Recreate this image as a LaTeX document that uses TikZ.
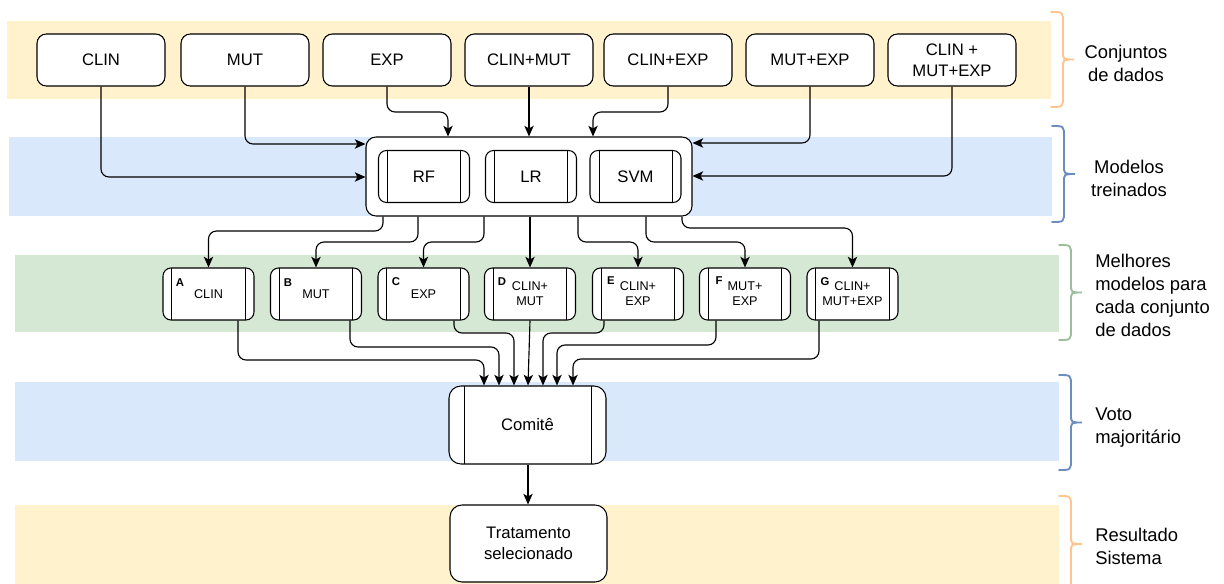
\documentclass[tikz,border=0pt]{standalone}
\usepackage{fontspec}
\setmainfont{Liberation Sans}
\usetikzlibrary{arrows.meta}

\definecolor{bandyellow}{HTML}{FFF2CC}
\definecolor{bandblue}{HTML}{DAE8FC}
\definecolor{bandgreen}{HTML}{D5E8D4}
\definecolor{braceorange}{HTML}{FFC48F}
\definecolor{braceblue}{HTML}{6C8EBF}
\definecolor{bracegreen}{HTML}{9DBE9D}

% curly bracket: colour, left x, top y, bottom y
\newcommand\curlybr[4]{%
  \pgfmathsetmacro\cbm{(#3+#4)/2}%
  \draw[bracestroke, #1] (#2,#3) .. controls (#2+12,#3) .. (#2+12,#3+11)
    -- (#2+12,\cbm-8) .. controls (#2+12,\cbm) .. (#2+23,\cbm)
    .. controls (#2+12,\cbm) .. (#2+12,\cbm+8)
    -- (#2+12,#4-11) .. controls (#2+12,#4) .. (#2,#4);}

\begin{document}
\begin{tikzpicture}[x=0.75pt,y=-0.75pt,
  bracestroke/.style={line width=1.4pt, line cap=round},
  databox/.style={draw, fill=white, line width=0.8pt, rounded corners=7pt,
    minimum width=96pt, minimum height=39pt, inner sep=0pt, align=center,
    font=\fontsize{12.5}{15.5}\selectfont},
  procbox/.style={draw, fill=white, line width=0.8pt, inner sep=0pt,
    path picture={\draw[line width=0.6pt]
      ([xshift=#1]path picture bounding box.north west) --
      ([xshift=#1]path picture bounding box.south west)
      ([xshift=-#1]path picture bounding box.north east) --
      ([xshift=-#1]path picture bounding box.south east);}},
  modelbox/.style={draw, fill=white, line width=0.8pt, rounded corners=7.5pt,
    minimum width=244.5pt, minimum height=59.25pt},
  algbox/.style={procbox=6.75pt, rounded corners=6pt, minimum width=68.25pt,
    minimum height=39pt, font=\fontsize{12.5}{15.5}\selectfont},
  bestbox/.style={procbox=6.5pt, rounded corners=6pt, minimum width=68.25pt,
    minimum height=39pt, align=center, font=\fontsize{9.5}{11.25}\selectfont},
  tagtext/.style={inner sep=0pt, font=\fontsize{8.5}{10}\selectfont\bfseries},
  votebox/.style={procbox=11.25pt, rounded corners=9pt, minimum width=117.75pt,
    minimum height=58.5pt, font=\fontsize{12.5}{15.5}\selectfont},
  resultbox/.style={draw, fill=white, line width=0.8pt, rounded corners=9pt,
    minimum width=117.75pt, minimum height=57.75pt, align=center,
    font=\fontsize{12.5}{15.5}\selectfont},
  sidelabel/.style={inner sep=0pt, font=\fontsize{13.8}{17.25}\selectfont},
  conn/.style={line width=0.85pt, rounded corners=6pt,
    -{Stealth[length=8pt,width=7pt,inset=2pt]}}
]
\useasboundingbox (0,0) rectangle (1224,584);

% background bands
\fill[bandyellow] (7,21) rectangle (1051,99);
\fill[bandblue] (9,137) rectangle (1052,216);
\fill[bandgreen] (15,255) rectangle (1059,332);
\fill[bandblue] (15,382) rectangle (1059,461);
\fill[bandyellow] (15,505) rectangle (1059,584);

% brackets
\curlybr{braceorange}{1051}{12}{107}
\curlybr{braceblue}{1052}{126}{222}
\curlybr{bracegreen}{1059}{245}{340}
\curlybr{braceblue}{1059}{375}{470}
\curlybr{braceorange}{1059}{496}{592}

% side labels
\node[sidelabel, align=center] (lab1) at (1126,63.5) {Conjuntos\\de dados};
\node[sidelabel, align=center] (lab2) at (1129,178) {Modelos\\treinados};
\node[sidelabel, align=left, anchor=west] (lab3) at (1095,295.5) {Melhores\\modelos para\\cada conjunto\\de dados};
\node[sidelabel, align=left, anchor=west] (lab4) at (1095,428) {Voto\\majoritário};
\node[sidelabel, align=left, anchor=west] (lab5) at (1095,546) {Resultado\\Sistema};

% data sets
\node[databox] (clin) at (101,60) {CLIN};
\node[databox] (mut) at (245,60) {MUT};
\node[databox] (exp) at (387,60) {EXP};
\node[databox] (cm) at (529,60) {CLIN+MUT};
\node[databox] (ce) at (668,60) {CLIN+EXP};
\node[databox] (me) at (810,60) {MUT+EXP};
\node[databox] (cme) at (952,60) {CLIN +\\MUT+EXP};

% trained models
\node[modelbox] (mdl) at (529,176.5) {};
\node[algbox] (rf) at (424,176.5) {RF};
\node[algbox] (lr) at (531,176.5) {LR};
\node[algbox] (svm) at (635.5,176.5) {SVM};

% best model per data set
\node[bestbox] (bA) at (208.5,294) {CLIN};
\node[bestbox] (bB) at (316,294) {MUT};
\node[bestbox] (bC) at (423.5,294) {EXP};
\node[bestbox] (bD) at (530,294) {CLIN+\\MUT};
\node[bestbox] (bE) at (638,294) {CLIN+\\EXP};
\node[bestbox] (bF) at (745,294) {MUT+\\EXP};
\node[bestbox] (bG) at (852.5,294) {CLIN+\\MUT+EXP};
\node[tagtext] (tA) at (180,282.5) {A};
\node[tagtext] (tB) at (288,282.5) {B};
\node[tagtext] (tC) at (396,282) {C};
\node[tagtext] (tD) at (502,281.5) {D};
\node[tagtext] (tE) at (611,281) {E};
\node[tagtext] (tF) at (719,281) {F};
\node[tagtext] (tG) at (825,281.5) {G};

% vote and result
\node[votebox] (cmt) at (527.5,425) {Comitê};
\node[resultbox] (trat) at (528.5,543.5) {Tratamento\\selecionado};

% data sets -> models
\draw[conn] (clin.south) |- (mdl.west |- 0,177);
\draw[conn] (mut.south) |- (mdl.west |- 0,144);
\draw[conn] (exp.south) |- (448,112) -- (mdl.north -| 448,0);
\draw[conn] (cm.south) -- (mdl.north);
\draw[conn] (ce.south) |- (593,112) -- (mdl.north -| 593,0);
\draw[conn] (me.south) |- (mdl.east |- 0,143);
\draw[conn] (cme.south) |- (mdl.east |- 0,176);

% models -> best models
\draw[conn] (mdl.south -| 383,0) |- (bA.north |- 0,231) -- (bA.north);
\draw[conn] (mdl.south -| 418,0) |- (bB.north |- 0,242) -- (bB.north);
\draw[conn] (mdl.south -| 484,0) |- (bC.north |- 0,242) -- (bC.north);
\draw[conn] (mdl.south -| 530,0) -- (bD.north);
\draw[conn] (mdl.south -| 578,0) |- (bE.north |- 0,242) -- (bE.north);
\draw[conn] (mdl.south -| 646,0) |- (bF.north |- 0,242) -- (bF.north);
\draw[conn] (mdl.south -| 682,0) |- (bG.north |- 0,228) -- (bG.north);

% best models -> committee
\draw[conn] (bA.south -| 238,0) |- (484,360) -- (cmt.north -| 484,0);
\draw[conn] (bB.south -| 350,0) |- (499,347) -- (cmt.north -| 499,0);
\draw[conn] (bC.south -| 454,0) |- (514,333) -- (cmt.north -| 514,0);
\draw[conn] (bD.south) -- (cmt.north -| 528,0);
\draw[conn] (bE.south -| 604,0) |- (543,333) -- (cmt.north -| 543,0);
\draw[conn] (bF.south -| 716,0) |- (557,345) -- (cmt.north -| 557,0);
\draw[conn] (bG.south -| 819,0) |- (573,359) -- (cmt.north -| 573,0);

% committee -> result
\draw[conn] (cmt.south -| 528,0) -- (trat.north -| 528,0);
\end{tikzpicture}
\end{document}
